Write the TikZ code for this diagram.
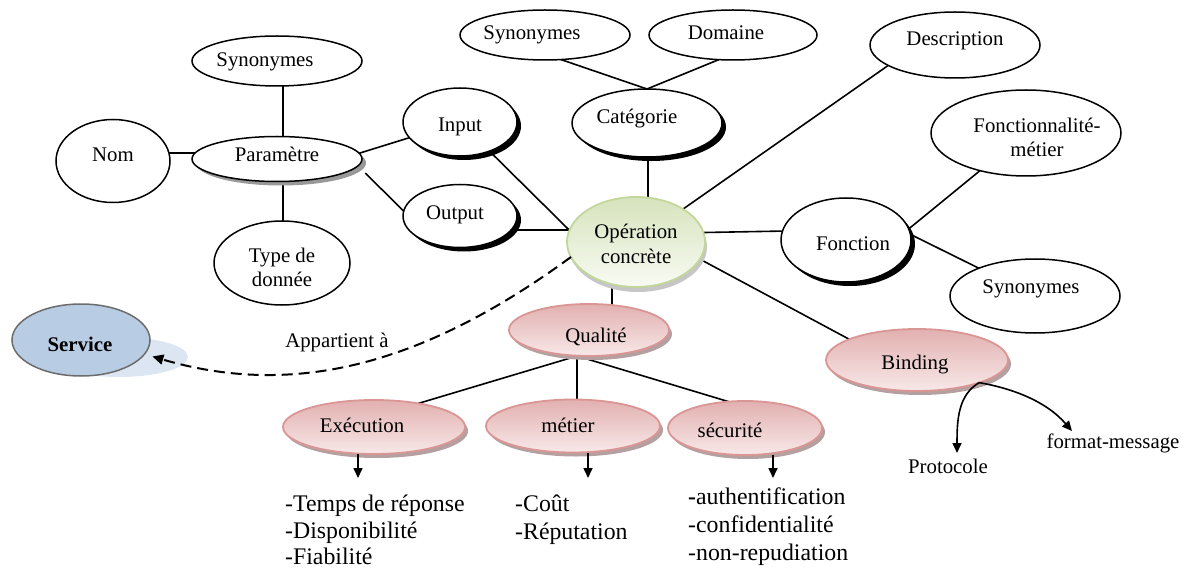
\documentclass[tikz,border=0pt]{standalone}
\usepackage{fontspec}
\setmainfont{Liberation Serif}
\usetikzlibrary{shapes.geometric,arrows.meta,shadows}
\pgfdeclarelayer{background}
\pgfsetlayers{background,main}
\definecolor{pinkB}{RGB}{217,150,148}
\definecolor{pinkT}{RGB}{226,176,176}
\definecolor{pinkL}{RGB}{248,232,232}
\definecolor{pinkS}{RGB}{180,160,160}
\definecolor{greenB}{RGB}{195,214,155}
\definecolor{greenT}{RGB}{214,227,188}
\definecolor{greenL}{RGB}{248,251,243}
\definecolor{servF}{RGB}{184,204,228}
\definecolor{servS}{RGB}{220,230,242}
\newcommand{\lbl}{\fontsize{20.8}{24}\selectfont}
\newcommand{\lstf}{\fontsize{23.8}{28}\selectfont}
\newcommand{\zs}[3]{\makebox[0pt]{\hspace*{#1}\raisebox{#2}[0pt][0pt]{#3}\hspace*{-#1}}}
\newcommand{\two}[2]{\begin{tabular}[b]{@{}c@{}}#1\\#2\end{tabular}}
\begin{document}
\begin{tikzpicture}[x=1pt,y=-1pt,
  conn/.style={line width=1.6pt},
  arr/.style={line width=1.6pt,-{Triangle[length=10pt,width=9pt]}},
  dsh/.style={line width=2pt,dash pattern=on 11pt off 6pt,-{Triangle[length=11pt,width=10pt]}},
  ell/.style={ellipse,draw=black,line width=1.5pt,fill=white,inner sep=0pt,outer sep=0pt,font=\lbl},
  bsh/.style={drop shadow={shadow xshift=4pt,shadow yshift=-4pt,fill=black,opacity=1}},
  gsh/.style={drop shadow={shadow xshift=4pt,shadow yshift=-4pt,fill=gray!80,opacity=1}},
  pinkn/.style={ellipse,draw=pinkB,line width=1.8pt,top color=pinkT,bottom color=pinkL,inner sep=0pt,outer sep=0pt,font=\lbl,
    drop shadow={shadow xshift=3pt,shadow yshift=-4pt,fill=pinkS,opacity=1}},
  greenn/.style={ellipse,draw=greenB,line width=1.8pt,top color=greenT,bottom color=greenL,inner sep=0pt,outer sep=0pt,font=\lbl,
    drop shadow={shadow xshift=2pt,shadow yshift=-5pt,fill=gray!45,opacity=1}},
  servn/.style={ellipse,draw=gray!85!black,line width=1.5pt,fill=servF,inner sep=0pt,outer sep=0pt,font=\lbl\bfseries},
  txt/.style={inner sep=0pt,font=\lbl},
  lsttxt/.style={inner sep=0pt,font=\lstf,anchor=base west}
]
\useasboundingbox (0,0) rectangle (1193,569);

% ellipses
\node[ell,minimum width=170pt,minimum height=50pt] (syn1) at (277,61) {\zs{-12pt}{-6pt}{Synonymes}};
\node[ell,minimum width=114pt,minimum height=83pt] (nom) at (113,161) {\zs{0pt}{-1pt}{Nom}};
\node[ell,gsh,minimum width=170pt,minimum height=45pt] (param) at (277,159) {\zs{0pt}{-3pt}{Paramètre}};
\node[ell,minimum width=136pt,minimum height=84pt] (type) at (282,263) {\zs{0pt}{-23pt}{\two{Type de}{donnée}}};
\node[ell,bsh,minimum width=114pt,minimum height=68pt] (input) at (460,122) {\zs{0pt}{-10pt}{Input}};
\node[ell,bsh,minimum width=114pt,minimum height=63pt] (output) at (460,216) {\zs{-5pt}{-4pt}{Output}};
\node[ell,bsh,minimum width=150pt,minimum height=68pt] (cat) at (647,123) {\zs{-10pt}{-1pt}{Catégorie}};
\node[ell,minimum width=170pt,minimum height=50pt] (syn2) at (545,35) {\zs{-13pt}{-5pt}{Synonymes}};
\node[ell,minimum width=168pt,minimum height=50pt] (dom) at (733,35) {\zs{-7pt}{-5pt}{Domaine}};
\node[ell,minimum width=170pt,minimum height=66pt] (desc) at (955,45) {\zs{0pt}{-1pt}{Description}};
\node[ell,minimum width=190pt,minimum height=86pt] (fm) at (1026,133) {\zs{11pt}{-24pt}{\two{Fonctionnalité-}{métier}}};
\node[ell,bsh,minimum width=130pt,minimum height=84pt] (fonc) at (846,240) {\zs{7pt}{-11pt}{Fonction}};
\node[ell,minimum width=170pt,minimum height=74pt] (syn3) at (1035,296) {\zs{-4pt}{3pt}{Synonymes}};
\node[greenn,minimum width=138pt,minimum height=90pt] (op) at (636,242) {\zs{0pt}{-21pt}{\two{Opération}{concrète}}};
\node[pinkn,minimum width=160pt,minimum height=52pt] (qual) at (589,330) {\zs{7pt}{-12pt}{Qualité}};
\node[pinkn,minimum width=182pt,minimum height=54pt] (exec) at (374,427) {\zs{-12pt}{-5pt}{Exécution}};
\node[pinkn,minimum width=174pt,minimum height=53pt] (metier) at (573,426) {\zs{-5pt}{-6pt}{métier}};
\node[pinkn,minimum width=154pt,minimum height=54pt] (secu) at (745,428) {\zs{-15pt}{-9pt}{sécurité}};
\node[pinkn,minimum width=182pt,minimum height=62pt] (bind) at (917,360) {\zs{-2pt}{-9pt}{Binding}};
\node[ellipse,fill=servS,inner sep=0pt,minimum width=138pt,minimum height=40pt] (servsh) at (119,357) {};
\node[servn,minimum width=138pt,minimum height=72pt] (serv) at (81,340) {\zs{-1pt}{-11pt}{Service}};

% connectors behind the ellipses
\begin{pgfonlayer}{background}
\draw[conn] ([xshift=6pt]syn1.center) -- ([xshift=6pt]param.center);
\draw[conn] ([xshift=6pt]param.center) -- ([xshift=1pt]type.center);
\draw[conn] ([yshift=8pt]nom.center) -- ([yshift=6pt]param.center);
\draw[conn] (param.4) -- (input.center);
\draw[conn] ([xshift=22pt]param.-12) -- (output.175);
\draw[conn] (input.center) -- (op.170);
\draw[conn] (op.170) -- (op.170 -| output.center);
\draw[conn] ([xshift=1pt]cat.center) -- ([xshift=1pt]cat.center |- op.center);
\draw[conn] (syn2.-57) -- (cat.north);
\draw[conn] (dom.-120) -- (cat.north);
\draw[conn] (op.center) -- (desc.-163);
\draw[conn] (op.8) -- (fonc.172);
\draw[conn] (fonc.10) -- (fm.center);
\draw[conn] (fonc.5) -- (syn3.center);
\draw[conn] (op.-15) -- (bind.163);
\draw[conn] ([xshift=-24pt]op.center) -- ([xshift=23pt]qual.center);
\coordinate (qj) at ([xshift=-12pt]qual.south);
\draw[conn] (qj) -- (exec.28);
\draw[conn] (qj) -- (qj |- metier.north);
\draw[conn] (qj) -- (secu.122);
\end{pgfonlayer}

% arrows to the lists
\coordinate (a1) at (358,478);
\coordinate (a2) at (588,478);
\coordinate (a3) at (773,478);
\draw[arr] (exec.south -| a1) -- (a1);
\draw[arr] (metier.south -| a2) -- (a2);
\draw[arr] (secu.south -| a3) -- (a3);

% binding
\coordinate (pt) at (957,453);
\coordinate (ft) at (1072,431);
\draw[arr] (bind.-20) .. controls (958,395) and (957,420) .. (pt);
\draw[arr] (bind.-20) .. controls (1010,388) and (1045,400) .. (ft);
\node[txt] (prot) at (948,466) {Protocole};
\node[txt] (fmsg) at (1113,443) {format-message};

% appartient
\draw[dsh] (op.193) .. controls (430,360) and (300,400) .. ([xshift=10pt]serv.-15);
\node[txt] (app) at (337,342) {Appartient à};

% lists
\node[lsttxt] (l1) at (285,511) {-Temps de réponse};
\node[lsttxt] (l2) at (285,538) {-Disponibilité};
\node[lsttxt] (l3) at (285,564) {-Fiabilité};
\node[lsttxt] (m1) at (515,511) {-Coût};
\node[lsttxt] (m2) at (515,539) {-Réputation};
\node[lsttxt] (s1) at (688,504) {\textbf{-}authentification};
\node[lsttxt] (s2) at (688,532) {-confidentialité};
\node[lsttxt] (s3) at (688,560) {-non-repudiation};
\end{tikzpicture}
\end{document}
